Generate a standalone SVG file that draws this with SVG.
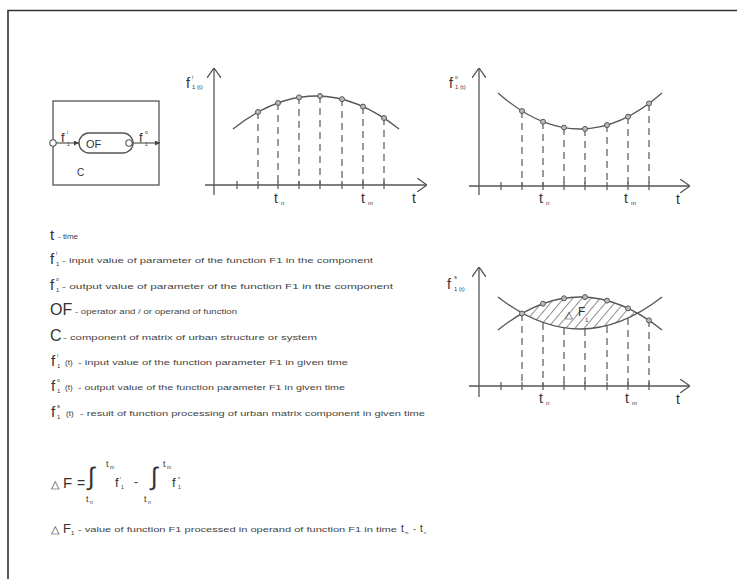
<svg xmlns="http://www.w3.org/2000/svg" width="737" height="579" viewBox="0 0 737 579">
<style>
text{font-family:"Liberation Sans",Arial,sans-serif;fill:#333}
.ax{stroke:#555;stroke-width:1.3;fill:none}
.tk{stroke:#555;stroke-width:1.2}
.cv{stroke:#555;stroke-width:1.3;fill:none}
.ds{stroke:#666;stroke-width:1.3;stroke-dasharray:7,5}
.pt{fill:#bbb;stroke:#555;stroke-width:1}
.sym{font-size:15px}
.sm{font-size:6px}
.dsc{font-size:8px;fill:#444}
.tl{font-size:14px}
.int{font-family:"DejaVu Sans",sans-serif;font-weight:200;font-size:25px}
</style>
<defs>
<marker id="chev" viewBox="0 0 10 14" refX="10" refY="7" markerWidth="10" markerHeight="14" markerUnits="userSpaceOnUse" orient="auto">
<path d="M0,0 L10,7 L0,14" fill="none" stroke="#555" stroke-width="1.3"/>
</marker>
<marker id="arr" viewBox="0 0 6 6" refX="6" refY="3" markerWidth="5" markerHeight="5" markerUnits="userSpaceOnUse" orient="auto">
<path d="M0,0 L6,3 L0,6 Z" fill="#444"/>
</marker>
<pattern id="hatch" patternUnits="userSpaceOnUse" width="7" height="7" patternTransform="rotate(40)">
<line x1="0" y1="0" x2="0" y2="7" stroke="#444" stroke-width="1.2"/>
</pattern>
</defs>
<rect width="737" height="579" fill="#fff"/>
<path d="M8,579 L8,10.5 L737,10.5" fill="none" stroke="#333" stroke-width="1.6"/>

<g id="component">
<rect x="53" y="101" width="106" height="84" fill="none" stroke="#555" stroke-width="1.3"/>
<rect x="79" y="133" width="54" height="20" rx="10" fill="none" stroke="#555" stroke-width="1.4"/>
<circle cx="53" cy="143" r="3.2" fill="#fff" stroke="#555" stroke-width="1.1"/>
<circle cx="129" cy="143" r="3.2" fill="#fff" stroke="#555" stroke-width="1.1"/>
<text x="86" y="148" font-size="11">OF</text>
<text x="61" y="142" font-size="13">f</text>
<text x="67" y="134" font-size="5">i</text>
<text x="67" y="146" font-size="5">1</text>
<text x="139" y="142" font-size="13">f</text>
<text x="145" y="134" font-size="5">o</text>
<text x="145" y="146" font-size="5">1</text>
<text x="77" y="176" font-size="10">C</text>
</g>

<g id="connectors">
<line x1="56" y1="143" x2="79" y2="143" stroke="#555" stroke-width="1.2" marker-end="url(#arr)"/>
<line x1="132" y1="143" x2="160" y2="143" stroke="#555" stroke-width="1.2" marker-end="url(#arr)"/>
</g>

<g id="graph1">
<line class="ax" x1="214" y1="195" x2="214" y2="68" marker-end="url(#chev)"/>
<line class="ax" x1="205" y1="185" x2="427" y2="185" marker-end="url(#chev)"/>
<g class="tk">
<line x1="237" y1="181" x2="237" y2="189"/><line x1="258" y1="181" x2="258" y2="189"/>
<line x1="278" y1="181" x2="278" y2="189"/><line x1="299" y1="181" x2="299" y2="189"/>
<line x1="320" y1="181" x2="320" y2="189"/><line x1="342" y1="181" x2="342" y2="189"/>
<line x1="363" y1="181" x2="363" y2="189"/><line x1="384" y1="181" x2="384" y2="189"/>
</g>
<g class="ds">
<line x1="258" y1="112" x2="258" y2="185"/><line x1="278" y1="103" x2="278" y2="185"/>
<line x1="299" y1="97" x2="299" y2="185"/><line x1="320" y1="96" x2="320" y2="185"/>
<line x1="342" y1="99" x2="342" y2="185"/><line x1="363" y1="107" x2="363" y2="185"/>
<line x1="384" y1="118" x2="384" y2="185"/>
</g>
<path class="cv" d="M233,129 Q316,63 399,129"/>
<g class="pt">
<circle cx="258" cy="112" r="2.5"/><circle cx="278" cy="103" r="2.5"/>
<circle cx="299" cy="97.4" r="2.5"/><circle cx="320" cy="96" r="2.5"/>
<circle cx="342" cy="99.2" r="2.5"/><circle cx="363" cy="106.6" r="2.5"/>
<circle cx="384" cy="118" r="2.5"/>
</g>
<text x="186" y="88" font-size="14">f</text>
<text x="192" y="79" font-size="5">i</text>
<text x="192" y="89" font-size="6">1 (t)</text>
<text class="tl" x="274" y="203">t</text><text x="281" y="205" class="sm">n</text>
<text class="tl" x="361" y="203">t</text><text x="368" y="205" class="sm">m</text>
<text class="tl" x="412" y="203">t</text>
</g>

<g id="graph2">
<line class="ax" x1="479" y1="195" x2="479" y2="68" marker-end="url(#chev)"/>
<line class="ax" x1="469" y1="186" x2="690" y2="186" marker-end="url(#chev)"/>
<g class="tk">
<line x1="501" y1="182" x2="501" y2="190"/><line x1="522" y1="182" x2="522" y2="190"/>
<line x1="543" y1="182" x2="543" y2="190"/><line x1="564" y1="182" x2="564" y2="190"/>
<line x1="585" y1="182" x2="585" y2="190"/><line x1="607" y1="182" x2="607" y2="190"/>
<line x1="628" y1="182" x2="628" y2="190"/><line x1="649" y1="182" x2="649" y2="190"/>
</g>
<g class="ds">
<line x1="522" y1="111" x2="522" y2="186"/><line x1="543" y1="122" x2="543" y2="186"/>
<line x1="564" y1="128" x2="564" y2="186"/><line x1="585" y1="129" x2="585" y2="186"/>
<line x1="607" y1="125" x2="607" y2="186"/><line x1="628" y1="117" x2="628" y2="186"/>
<line x1="649" y1="104" x2="649" y2="186"/>
</g>
<path class="cv" d="M498,93 Q580,165 662,93"/>
<g class="pt">
<circle cx="522" cy="111" r="2.5"/><circle cx="543" cy="121.7" r="2.5"/>
<circle cx="564" cy="127.6" r="2.5"/><circle cx="585" cy="128.9" r="2.5"/>
<circle cx="607" cy="125.1" r="2.5"/><circle cx="628" cy="116.7" r="2.5"/>
<circle cx="649" cy="103.5" r="2.5"/>
</g>
<text x="449" y="88" font-size="14">f</text>
<text x="455" y="79" font-size="5">o</text>
<text x="455" y="89" font-size="6">1 (t)</text>
<text class="tl" x="539" y="203">t</text><text x="546" y="205" class="sm">n</text>
<text class="tl" x="624" y="203">t</text><text x="631" y="205" class="sm">m</text>
<text class="tl" x="676" y="204">t</text>
</g>

<g id="graph3">
<line class="ax" x1="479" y1="397" x2="479" y2="267" marker-end="url(#chev)"/>
<line class="ax" x1="469" y1="386" x2="690" y2="386" marker-end="url(#chev)"/>
<g class="tk">
<line x1="501" y1="382" x2="501" y2="390"/><line x1="522" y1="382" x2="522" y2="390"/>
<line x1="543" y1="382" x2="543" y2="390"/><line x1="564" y1="382" x2="564" y2="390"/>
<line x1="585" y1="382" x2="585" y2="390"/><line x1="607" y1="382" x2="607" y2="390"/>
<line x1="628" y1="382" x2="628" y2="390"/><line x1="649" y1="382" x2="649" y2="390"/>
</g>
<path d="M522.5,313.25 Q580,280.8 637.5,313.25 Q580,344.8 522.5,313.25 Z" fill="url(#hatch)"/>
<g class="ds">
<line x1="522" y1="314" x2="522" y2="386"/><line x1="543" y1="323" x2="543" y2="386"/>
<line x1="564" y1="328" x2="564" y2="386"/><line x1="585" y1="329" x2="585" y2="386"/>
<line x1="607" y1="326" x2="607" y2="386"/><line x1="628" y1="318" x2="628" y2="386"/>
<line x1="649" y1="320" x2="649" y2="386"/>
</g>
<path class="cv" d="M498,330 Q580,264 662,330"/>
<path class="cv" d="M498,297 Q580,361 662,297"/>
<g class="pt">
<circle cx="522" cy="313.5" r="2.5"/><circle cx="543" cy="303.7" r="2.5"/>
<circle cx="564" cy="298.3" r="2.5"/><circle cx="585" cy="297.1" r="2.5"/>
<circle cx="607" cy="300.6" r="2.5"/><circle cx="628" cy="308.3" r="2.5"/>
<circle cx="649" cy="320.4" r="2.5"/>
</g>
<text x="565" y="318" font-size="10" font-family="DejaVu Sans,sans-serif">△</text>
<text x="578" y="316" font-size="12">F</text>
<text x="585" y="322" class="sm">1</text>
<text x="447" y="289" font-size="14">f</text>
<text x="454" y="279" font-size="6">s</text>
<text x="454" y="291" font-size="6">1 (t)</text>
<text class="tl" x="539" y="403">t</text><text x="546" y="405" class="sm">n</text>
<text class="tl" x="625" y="403">t</text><text x="632" y="405" class="sm">m</text>
<text class="tl" x="676" y="404">t</text>
</g>

<g id="legend">
<text class="sym" x="50" y="240">t</text>
<text class="dsc" x="58" y="239">- time</text>

<text class="sym" x="50" y="264">f</text>
<text x="56" y="255" font-size="5">i</text>
<text x="56" y="266" class="sm">1</text>
<text class="dsc" x="62" y="263" textLength="311" lengthAdjust="spacingAndGlyphs">- input value of parameter of the function F1 in the component</text>

<text class="sym" x="50" y="290">f</text>
<text x="56" y="281" font-size="5">o</text>
<text x="56" y="292" class="sm">1</text>
<text class="dsc" x="62" y="289" textLength="331" lengthAdjust="spacingAndGlyphs">- output value of parameter of the function F1 in the component</text>

<text x="50" y="315" font-size="16">OF</text>
<text class="dsc" x="75" y="314" textLength="162" lengthAdjust="spacingAndGlyphs">- operator and / or operand of function</text>

<text x="50" y="341" font-size="16">C</text>
<text class="dsc" x="63" y="340" textLength="254" lengthAdjust="spacingAndGlyphs">- component of matrix of urban structure or system</text>

<text class="sym" x="51" y="366">f</text>
<text x="57" y="357" font-size="5">i</text>
<text x="57" y="368" class="sm">1</text>
<text x="65" y="365" font-size="8">(t)</text>
<text class="dsc" x="78" y="365" textLength="270" lengthAdjust="spacingAndGlyphs">- input value of the function parameter F1 in given time</text>

<text class="sym" x="51" y="391">f</text>
<text x="57" y="382" font-size="5">o</text>
<text x="57" y="393" class="sm">1</text>
<text x="65" y="390" font-size="8">(t)</text>
<text class="dsc" x="78" y="390" textLength="267" lengthAdjust="spacingAndGlyphs">- output value of the function parameter F1 in given time</text>

<text class="sym" x="51" y="417">f</text>
<text x="57" y="408" font-size="6">s</text>
<text x="57" y="419" class="sm">1</text>
<text x="66" y="416" font-size="8">(t)</text>
<text class="dsc" x="80" y="416" textLength="345" lengthAdjust="spacingAndGlyphs">- result of function processing of urban matrix component in given time</text>
</g>

<g id="formula">
<text x="51" y="488" font-size="11" font-family="DejaVu Sans,sans-serif">△</text>
<text x="63" y="488" font-size="15">F</text>
<text x="77" y="488" font-size="14">=</text>
<text class="int" x="88" y="485">∫</text>
<text x="106" y="467" font-size="9">t</text><text x="110" y="469" font-size="5">m</text>
<text x="86" y="502" font-size="9">t</text><text x="90" y="504" font-size="5">n</text>
<text x="115" y="487" font-size="13">f</text>
<text x="120" y="479" font-size="4">i</text>
<text x="121" y="489" font-size="5">1</text>
<text x="134" y="486" font-size="12">-</text>
<text class="int" x="151" y="485">∫</text>
<text x="163" y="467" font-size="9">t</text><text x="167" y="469" font-size="5">m</text>
<text x="144" y="502" font-size="9">t</text><text x="148" y="504" font-size="5">n</text>
<text x="172" y="487" font-size="13">f</text>
<text x="178" y="479" font-size="4">o</text>
<text x="178" y="489" font-size="5">1</text>

<text x="51" y="533" font-size="11" font-family="DejaVu Sans,sans-serif">△</text>
<text x="63" y="533" font-size="13">F</text>
<text x="71" y="535" class="sm">1</text>
<text class="dsc" x="78" y="532" textLength="319" lengthAdjust="spacingAndGlyphs">- value of function F1 processed in operand of function F1 in time</text>
<text x="401" y="532" font-size="10">t</text><text x="405" y="534" font-size="4">m</text>
<text x="413" y="532" font-size="8.5">-</text>
<text x="420" y="532" font-size="10">t</text><text x="424" y="534" font-size="4">n</text>
</g>
</svg>
